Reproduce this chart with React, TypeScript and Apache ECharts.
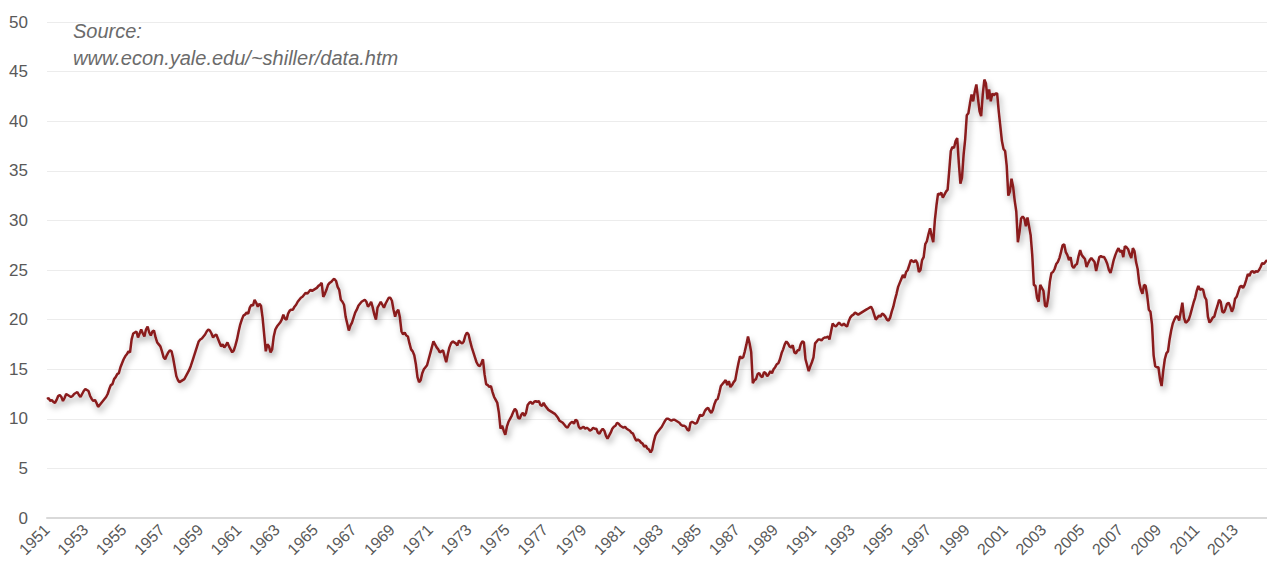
import React, { useEffect, useRef } from "react";
import * as echarts from "echarts";

// Monthly Shiller CAPE, Jan 1951 – Sep 2014
const cape1951_1960 = [
  12.0, 12.1, 11.8, 11.9, 11.7, 11.6, 11.9, 12.3, 12.4, 12.2, 11.8, 12.1,
  12.5, 12.4, 12.3, 12.2, 12.3, 12.5, 12.6, 12.7, 12.4, 12.2, 12.5, 12.8,
  13.0, 12.9, 12.8, 12.3, 12.0, 11.8, 11.9, 11.6, 11.2, 11.4, 11.6, 11.8,
  12.0, 12.2, 12.5, 13.0, 13.4, 13.5, 14.0, 14.2, 14.5, 14.6, 15.2, 15.6,
  16.0, 16.3, 16.5, 16.8, 16.7, 18.0, 18.6, 18.7, 18.8, 18.2, 18.6, 19.0,
  18.6, 18.3, 19.0, 19.3, 18.7, 18.4, 18.8, 18.9, 18.2, 17.7, 17.5, 17.3,
  16.8, 16.2, 16.0, 16.4, 16.7, 16.9, 16.8, 16.1, 15.2, 14.3, 13.9, 13.7,
  13.8, 13.9, 14.0, 14.3, 14.6, 14.9, 15.3, 15.8, 16.3, 16.8, 17.3, 17.8,
  18.0, 18.1, 18.3, 18.5, 18.8, 19.0, 18.9, 18.6, 18.2, 18.4, 18.5, 18.1,
  17.7, 17.3, 17.5, 17.2, 17.4, 17.7, 17.3, 17.0, 16.7, 16.9, 17.4, 18.0,
];
const cape1961_1970 = [
  18.8, 19.5, 20.0, 20.4, 20.5, 20.7, 20.6, 21.2, 21.5, 21.4, 22.0, 21.7,
  21.3, 21.6, 21.4, 20.2, 18.5, 16.8, 17.5, 17.3, 16.7, 17.0, 18.3, 19.0,
  19.3, 19.5, 19.7, 20.0, 20.5, 20.1, 20.0, 20.6, 20.9, 21.0, 21.0, 21.3,
  21.5, 21.8, 22.0, 22.2, 22.3, 22.5, 22.7, 22.6, 22.8, 23.0, 22.9, 23.0,
  23.1, 23.2, 23.4, 23.5, 23.7, 22.3, 22.6, 23.0, 23.5, 23.7, 23.8, 24.0,
  24.1, 23.9, 23.3, 23.0, 22.0, 21.8, 21.5, 20.3, 19.6, 18.9, 19.4, 19.7,
  20.2, 20.7, 21.0, 21.4, 21.6, 21.8, 21.9, 22.0, 21.8, 21.3, 21.5, 21.8,
  21.2, 20.5, 20.0, 21.2, 21.5, 21.8, 21.5, 21.2, 21.6, 21.9, 22.2, 22.2,
  21.9, 21.0, 20.3, 20.8, 21.0, 20.2, 18.8, 18.5, 18.7, 18.4, 18.3, 17.6,
  17.0, 16.8, 16.4, 15.5, 14.2, 13.7, 13.9, 14.6, 15.0, 15.2, 15.4, 16.0,
];
const cape1971_1980 = [
  16.6, 17.2, 17.8, 17.5, 17.2, 17.0, 16.7, 16.8, 16.9, 16.3, 15.7, 16.5,
  17.2, 17.6, 17.8, 17.7, 17.6, 17.4, 17.9, 17.7, 17.6, 17.8, 18.4, 18.7,
  18.5, 17.8, 17.2, 16.7, 16.2, 15.7, 15.4, 15.3, 15.6, 16.0, 14.5, 13.5,
  13.4, 13.2, 13.3, 12.7, 12.2, 11.9, 11.6, 10.6, 9.0, 9.3, 8.8, 8.4,
  9.2, 9.7, 10.0, 10.3, 10.7, 11.0, 10.8, 10.1, 10.0, 10.4, 10.6, 10.3,
  10.6, 11.4, 11.6, 11.7, 11.5, 11.7, 11.8, 11.7, 11.8, 11.4, 11.3, 11.6,
  11.3, 11.1, 10.9, 10.8, 10.7, 10.6, 10.5, 10.3, 10.1, 9.8, 9.7, 9.6,
  9.4, 9.2, 9.1, 9.4, 9.6, 9.7, 9.5, 9.9, 9.8, 9.2, 9.0, 9.1,
  9.2, 9.0, 9.1, 9.0, 8.8, 8.9, 9.1, 9.0, 9.0, 8.6, 8.5, 8.8,
  9.0, 8.8, 8.3, 8.0, 8.3, 8.6, 9.0, 9.2, 9.3, 9.6, 9.5, 9.3,
];
const cape1981_1990 = [
  9.2, 9.1, 9.2, 9.0, 8.9, 8.8, 8.6, 8.5, 8.1, 7.8, 7.9, 7.8,
  7.6, 7.5, 7.2, 7.3, 7.0, 6.9, 6.6, 6.9, 7.7, 8.3, 8.6, 8.8,
  9.0, 9.2, 9.5, 9.8, 10.0, 10.0, 9.9, 9.8, 9.9, 9.9, 9.8, 9.7,
  9.6, 9.4, 9.3, 9.3, 9.2, 8.9, 8.8, 9.6, 9.7, 9.6, 9.5, 9.6,
  10.0, 10.4, 10.3, 10.4, 10.8, 11.0, 11.1, 10.8, 10.6, 10.9, 11.5, 11.9,
  12.0, 12.6, 13.3, 13.5, 13.7, 13.9, 13.4, 13.8, 13.2, 13.4, 13.7, 13.9,
  14.8, 15.6, 16.3, 16.1, 16.2, 16.8, 17.5, 18.3, 17.6, 16.7, 13.6, 13.9,
  14.0, 14.5, 14.6, 14.3, 14.2, 14.7, 14.6, 14.3, 14.5, 14.8, 14.6, 15.0,
  15.2, 15.5, 15.6, 16.0, 16.6, 17.0, 17.5, 17.8, 17.6, 17.3, 17.2, 17.4,
  16.7, 16.6, 16.9, 16.9, 17.5, 17.8, 17.7, 16.0, 15.4, 14.8, 15.3, 15.7,
];
const cape1991_2000 = [
  16.2, 17.6, 17.8, 18.0, 18.0, 17.9, 18.1, 18.2, 18.2, 18.3, 18.0, 18.8,
  19.6, 19.4, 19.3, 19.5, 19.7, 19.5, 19.4, 19.6, 19.4, 19.3, 19.8, 20.2,
  20.4, 20.5, 20.7, 20.6, 20.5, 20.6, 20.7, 20.8, 20.9, 21.0, 21.1, 21.2,
  21.3, 21.0, 20.5, 20.0, 20.2, 20.4, 20.3, 20.6, 20.5, 20.3, 20.0, 19.9,
  20.2, 20.8, 21.3, 22.0, 22.6, 23.3, 23.7, 24.1, 24.5, 24.2, 24.8, 25.0,
  25.5, 26.0, 25.9, 25.8, 26.0, 25.7, 24.8, 25.0, 26.0, 26.3, 27.6, 27.9,
  28.6, 29.2, 28.4, 27.8, 30.0, 31.5, 32.7, 32.6, 32.8, 32.3, 32.6, 32.9,
  33.1, 35.0, 37.0, 37.4, 37.3, 38.0, 38.3, 35.8, 33.7, 34.3, 36.6, 38.2,
  40.6, 40.8, 41.8, 42.7, 42.0, 43.0, 43.7, 42.3, 41.0, 40.5, 42.7, 44.2,
  43.8, 42.2, 43.2, 42.0, 42.8, 42.6, 42.8, 42.8, 41.0, 39.5, 38.0, 37.2,
];
const cape2001_2010 = [
  37.0, 35.5, 32.5, 32.9, 34.2, 33.4, 32.0, 30.9, 27.8, 28.8, 30.2, 30.4,
  30.2, 29.4, 30.3, 29.4, 28.5, 26.5, 23.5, 23.4, 22.2, 21.8, 23.5, 23.2,
  22.9, 21.4, 21.3, 22.2, 23.8, 24.7, 24.8, 25.1, 25.6, 25.8, 26.2, 26.8,
  27.5, 27.6, 26.8, 26.5, 26.0, 26.3, 25.4, 25.2, 25.5, 25.6, 26.4, 27.0,
  26.5, 26.3, 26.1, 25.3, 25.7, 26.0, 26.2, 26.0, 25.8, 24.9, 25.6, 26.3,
  26.4, 26.3, 26.3, 26.0, 25.6, 25.0, 24.7, 25.3, 26.0, 26.5, 26.9, 27.2,
  26.8, 27.0, 26.3, 27.4, 27.3, 27.1, 26.6, 26.2, 27.2, 26.9, 25.8, 25.1,
  23.7, 23.0, 22.6, 23.5, 23.4, 22.4, 21.0, 20.8, 19.5, 16.4, 15.3, 15.2,
  15.2, 14.0, 13.3, 14.8, 16.0, 16.6, 16.8, 18.0, 18.9, 19.6, 20.0, 20.3,
  20.3, 19.9, 20.8, 21.7, 20.2, 19.7, 19.8, 20.0, 20.5, 21.1, 21.7, 22.2,
];
const cape2011_2014 = [
  22.9, 23.4, 23.0, 23.1, 23.0, 22.3, 22.0, 20.3, 19.7, 19.9, 20.2, 20.3,
  20.9, 21.4, 22.0, 21.8, 20.8, 20.7, 21.1, 21.6, 21.7, 21.3, 20.8, 21.2,
  22.1, 22.3, 22.8, 23.3, 23.4, 23.2, 23.5, 24.0, 24.6, 24.4, 24.8, 24.9,
  24.7, 24.9, 24.8, 25.0, 25.3, 25.7, 25.6, 25.8, 26.0,
];

const startYear = 1951;
const labelEveryMonths = 24;
const yTicks = { min: 0, max: 50, interval: 5 };
const sourceLines = ["Source:", "www.econ.yale.edu/~shiller/data.htm"];

const values = [
  ...cape1951_1960,
  ...cape1961_1970,
  ...cape1971_1980,
  ...cape1981_1990,
  ...cape1991_2000,
  ...cape2001_2010,
  ...cape2011_2014,
];
const months = values.map((_, i) => {
  const y = startYear + Math.floor(i / 12);
  const m = (i % 12) + 1;
  return `${y}-${m < 10 ? "0" + m : m}`;
});

const FONT = "'Liberation Sans', Arial, sans-serif";
const NARROW = "'Liberation Sans Narrow', 'Arial Narrow', 'Liberation Sans', Arial, sans-serif";

export default function App() {
  const ref = useRef<HTMLDivElement>(null);
  useEffect(() => {
    if (!ref.current) return;
    const chart = echarts.init(ref.current, undefined, { renderer: "svg" });
    chart.setOption({
      animation: false,
      backgroundColor: "#ffffff",
      grid: { left: 47, right: 0, top: 22, bottom: 46, containLabel: false },
      xAxis: {
        type: "category",
        data: months,
        boundaryGap: false,
        axisLine: { show: true, lineStyle: { color: "#d9d9d9", width: 2 } },
        axisTick: { show: false },
        splitLine: { show: false },
        axisLabel: {
          interval: (index: number) => index % labelEveryMonths === 0,
          formatter: (v: string) => v.slice(0, 4),
          rotate: 45,
          margin: 9,
          color: "#595959",
          fontSize: 16,
          fontFamily: NARROW,
        },
      },
      yAxis: {
        type: "value",
        min: yTicks.min,
        max: yTicks.max,
        interval: yTicks.interval,
        axisLine: { show: false },
        axisTick: { show: false },
        splitLine: { lineStyle: { color: "#ececec", width: 1 } },
        axisLabel: {
          color: "#595959",
          fontSize: 17,
          fontFamily: NARROW,
          margin: 19,
        },
      },
      graphic: [
        {
          type: "text",
          left: 73,
          top: 17,
          style: {
            text: sourceLines.join("\n"),
            font: `italic 20px ${FONT}`,
            fill: "#6b6b6b",
            lineHeight: 27,
          },
        },
      ],
      series: [
        {
          type: "line",
          data: values,
          showSymbol: false,
          symbol: "none",
          lineStyle: {
            color: "#8a1b1e",
            width: 2.5,
            shadowColor: "rgba(0,0,0,0.35)",
            shadowBlur: 6,
            shadowOffsetX: 2,
            shadowOffsetY: 4,
          },
        },
      ],
    });
    return () => chart.dispose();
  }, []);
  return (
    <div
      ref={ref}
      style={{ position: "fixed", left: 0, top: 0, width: 1267, height: 564 }}
    />
  );
}
